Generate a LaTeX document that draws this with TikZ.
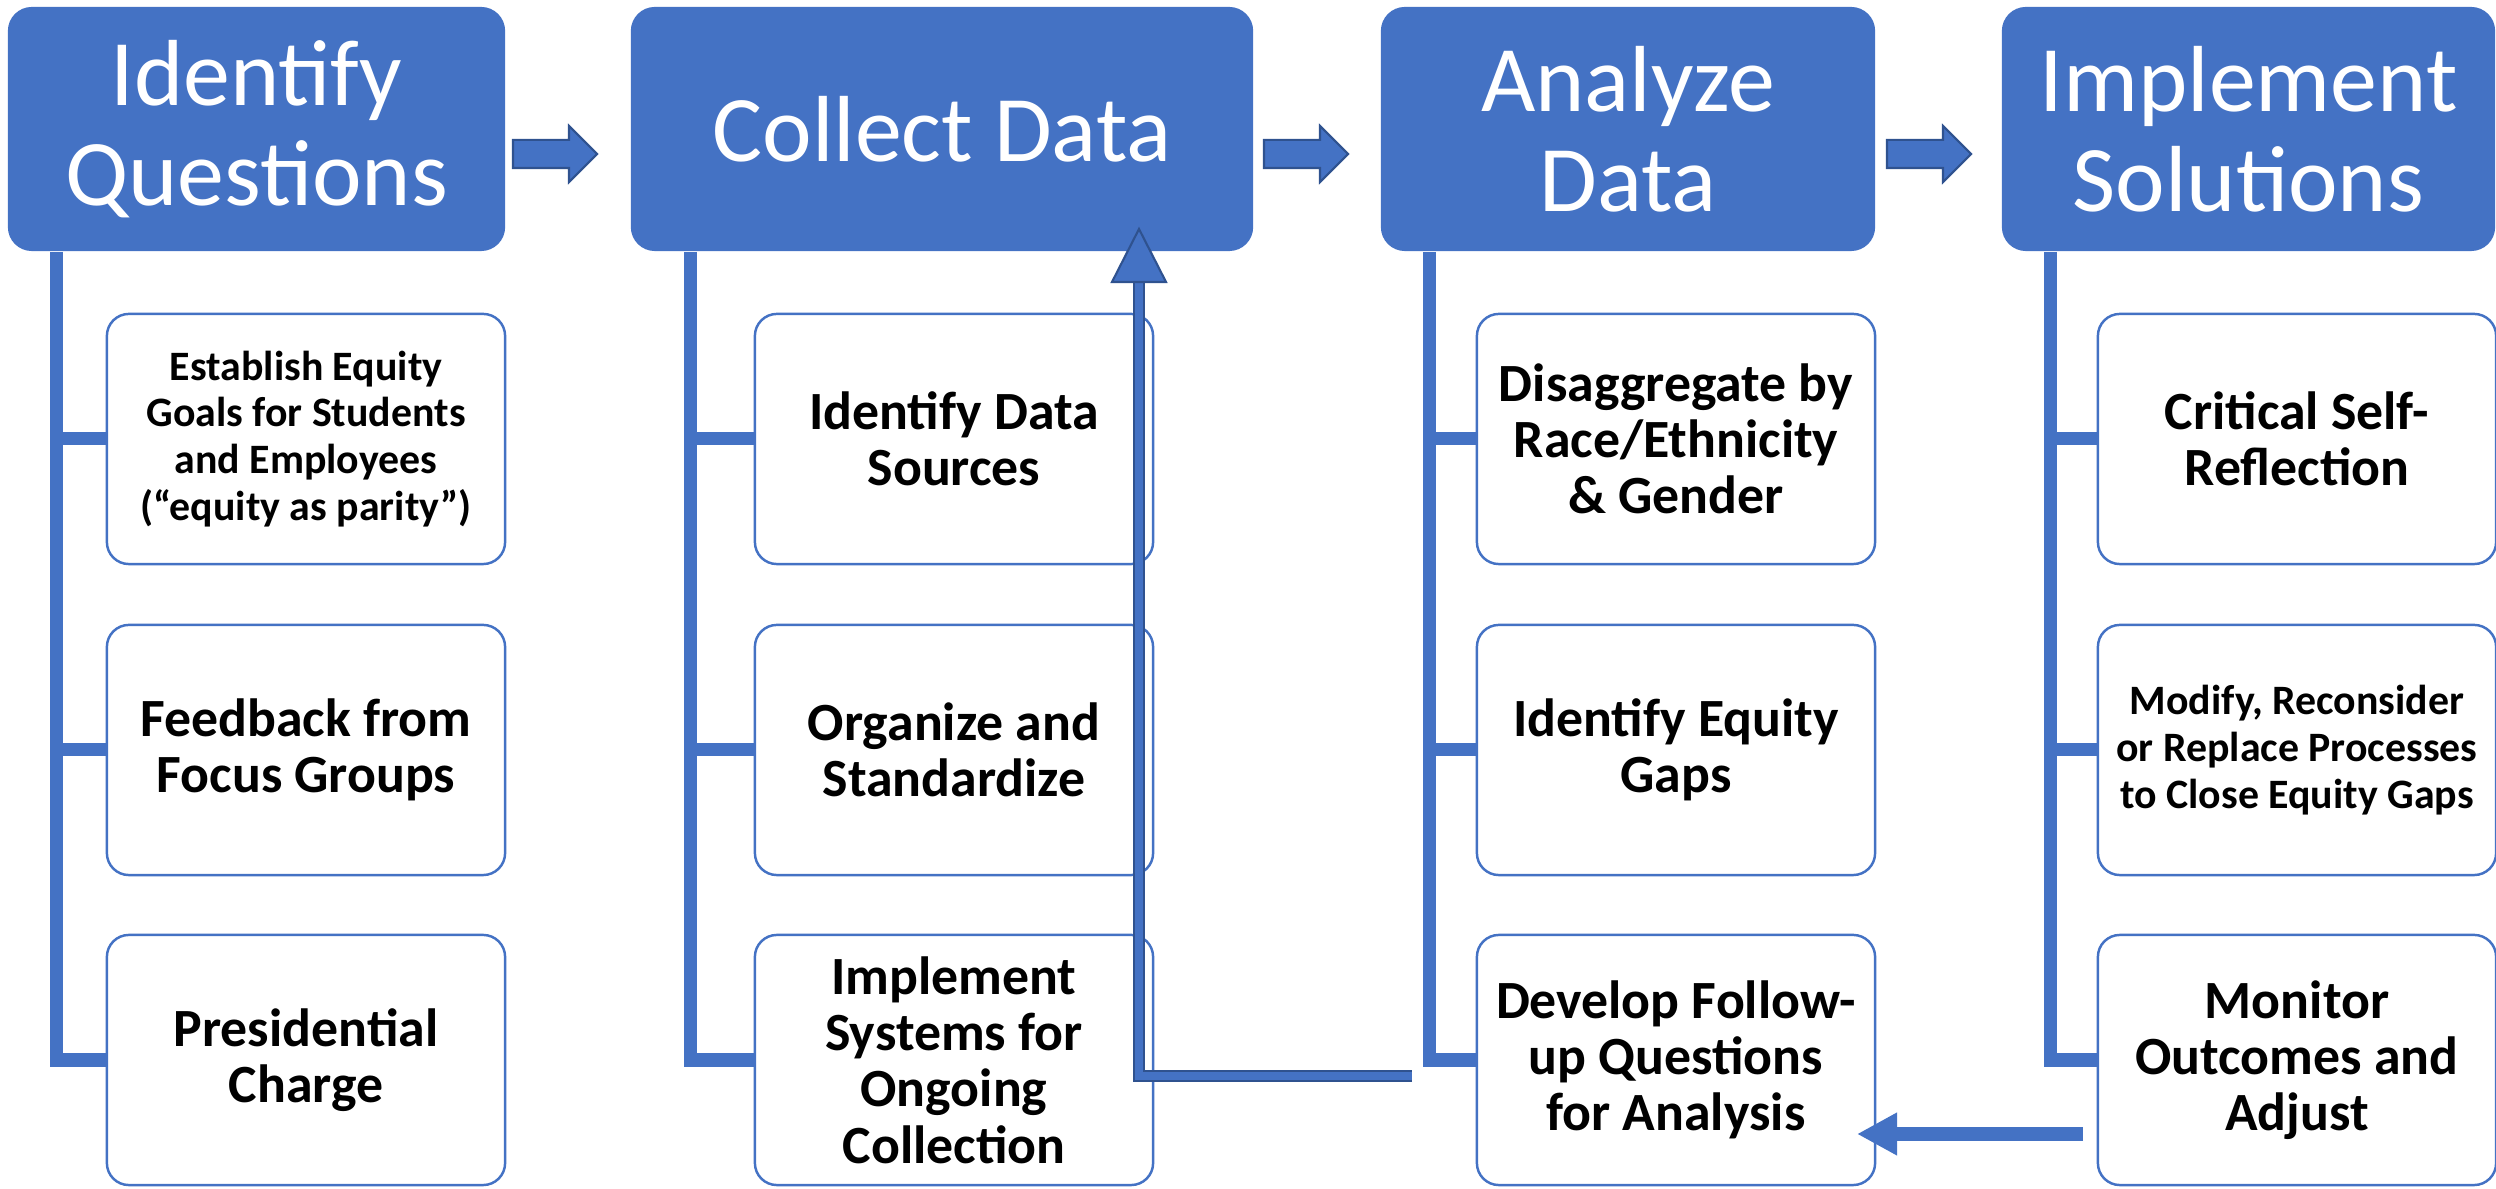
\documentclass[tikz,border=0pt]{standalone}
\usepackage{fontspec}
\setmainfont{Carlito}
\usetikzlibrary{shapes.arrows,arrows.meta}
\definecolor{hblue}{HTML}{4472C4}
\definecolor{hdark}{HTML}{2F528F}
\tikzset{
  head/.style={rectangle, rounded corners=0.24cm, fill=hblue, text=white,
    minimum height=2.44cm, inner sep=0pt, align=center,
    font=\fontsize{26.7}{28.5}\selectfont},
  item/.style={rectangle, rounded corners=0.22cm, draw=hblue, line width=0.7pt,
    fill=white, minimum width=3.98cm, minimum height=2.50cm, inner sep=0pt,
    align=center, font=\bfseries\fontsize{15.3}{16}\selectfont},
  small/.style={font=\bfseries\fontsize{11.9}{13.3}\selectfont},
  hop/.style={single arrow, fill=hblue, draw=hdark, line width=0.6pt,
    inner xsep=0pt, inner ysep=0.13cm, minimum height=0.84cm,
    single arrow head extend=0.14cm},
  bar/.style={draw=hblue, line width=0.13cm},
  backline/.style={draw=hdark, line width=0.5pt, double=hblue, double distance=0.08cm},
  backhead/.style={fill=hblue, draw=hdark, line width=0.6pt},
  fwd/.style={draw=hblue, line width=0.13cm, -{Triangle[width=0.40cm,length=0.40cm]}}
}
\begin{document}
\begin{tikzpicture}[x=0.01cm,y=-0.01cm]
  \useasboundingbox (0,0) rectangle (2496,1189);
  % headers
  \node[head, minimum width=4.97cm] (h1) at (256.5,129) {Identify\\Questions};
  \node[head, minimum width=6.22cm] (h2) at (942,129) {Collect Data};
  \node[head, minimum width=4.94cm] (h3) at (1628,129) {Analyze\\Data};
  \node[head, minimum width=4.93cm] (h4) at (2248.5,129) {Implement\\Solutions};
  % arrows between the headers
  \node[hop] (a1) at (548,154) {};
  \node[hop] (a2) at (1299,154) {};
  \node[hop] (a3) at (1922,154) {};
  % items, column 1
  \node[item, small] (b11) at (306,439) {Establish Equity\\Goals for Students\\and Employees\\(“equity as parity”)};
  \node[item] (b12) at (306,750) {Feedback from\\Focus Groups};
  \node[item] (b13) at (306,1060) {Presidential\\Charge};
  % column 2
  \node[item] (b21) at (954,439) {Identify Data\\Sources};
  \node[item] (b22) at (954,750) {Organize and\\Standardize};
  \node[item] (b23) at (954,1060) {Implement\\Systems for\\Ongoing\\Collection};
  % column 3
  \node[item] (b31) at (1676,439) {Disaggregate by\\Race/Ethnicity\\\& Gender};
  \node[item] (b32) at (1676,750) {Identify Equity\\Gaps};
  \node[item] (b33) at (1676,1060) {Develop Follow-\\up Questions\\for Analysis};
  % column 4
  \node[item] (b41) at (2297,439) {Critical Self-\\Reflection};
  \node[item, small] (b42) at (2297,750) {Modify, Reconsider\\or Replace Processes\\to Close Equity Gaps};
  \node[item] (b43) at (2297,1060) {Monitor\\Outcomes and\\Adjust};
  % bars
  \coordinate (v1) at ([xshift=0.49cm]h1.south west);
  \draw[bar] (v1) |- (b13.west);
  \draw[bar] (v1 |- b11.west) -- (b11.west);
  \draw[bar] (v1 |- b12.west) -- (b12.west);
  \coordinate (v2) at ([xshift=0.60cm]h2.south west);
  \draw[bar] (v2) |- (b23.west);
  \draw[bar] (v2 |- b21.west) -- (b21.west);
  \draw[bar] (v2 |- b22.west) -- (b22.west);
  \coordinate (v3) at ([xshift=0.49cm]h3.south west);
  \draw[bar] (v3) |- (b33.west);
  \draw[bar] (v3 |- b31.west) -- (b31.west);
  \draw[bar] (v3 |- b32.west) -- (b32.west);
  \coordinate (v4) at ([xshift=0.49cm]h4.south west);
  \draw[bar] (v4) |- (b43.west);
  \draw[bar] (v4 |- b41.west) -- (b41.west);
  \draw[bar] (v4 |- b42.west) -- (b42.west);
  % back to collect data
  \coordinate (fb) at (1412,1076);
  \coordinate (ft) at (1139,229);
  \draw[backline] (fb) -| ([yshift=-0.53cm]ft);
  \filldraw[backhead] (ft) -- ++(-27,53) -- ++(54,0) -- cycle;
  % monitor back to follow-up
  \coordinate (ms) at (2083,1134);
  \coordinate (me) at (1857,1134);
  \draw[fwd] (ms) -- (me);
\end{tikzpicture}
\end{document}
